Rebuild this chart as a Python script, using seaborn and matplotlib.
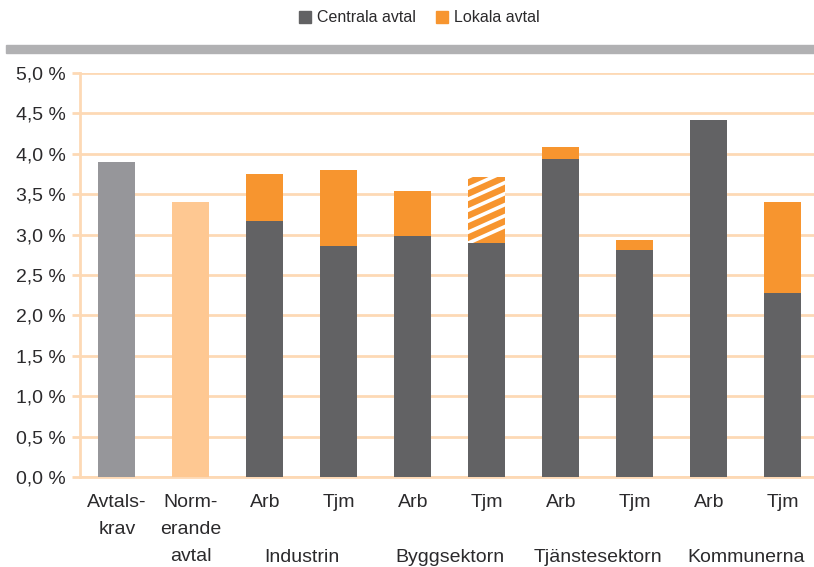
import matplotlib
matplotlib.use("Agg")
import matplotlib.pyplot as plt
import matplotlib.patches as mpatches
from matplotlib.lines import Line2D
import numpy as np
import pandas as pd
import seaborn as sns

# Bar keys, their printed labels and the sector groups underneath
categories = ["Avtalskrav", "Normerande avtal",
              "Industrin Arb", "Industrin Tjm",
              "Byggsektorn Arb", "Byggsektorn Tjm",
              "Tjänstesektorn Arb", "Tjänstesektorn Tjm",
              "Kommunerna Arb", "Kommunerna Tjm"]
tick_labels = ["Avtals-\nkrav", "Norm-\nerande\navtal",
               "Arb", "Tjm", "Arb", "Tjm", "Arb", "Tjm", "Arb", "Tjm"]
groups = ["Industrin", "Byggsektorn", "Tjänstesektorn", "Kommunerna"]

# Wage increase (%) from central agreements and from local agreements
centrala = [3.90, 3.40, 3.17, 2.86, 2.98, 2.90, 3.94, 2.81, 4.42, 2.28]
lokala = [0.00, 0.00, 0.58, 0.94, 0.56, 0.81, 0.14, 0.12, 0.00, 1.12]
hatched_bar = "Byggsektorn Tjm"

yticks = [0.0, 0.5, 1.0, 1.5, 2.0, 2.5, 3.0, 3.5, 4.0, 4.5, 5.0]

DARK = "#626264"
ORANGE = "#f7952f"
GREY_REF = "#96969a"
LIGHT_ORANGE = "#fec892"
GRID = "#fdd9b5"
TEXT = "#2b2a2c"

df = pd.DataFrame({"kategori": categories,
                   "centrala": centrala,
                   "lokala": lokala})
df["total"] = df["centrala"] + df["lokala"]

sns.set_theme(style="white")
plt.rcParams["font.family"] = ["Liberation Sans", "DejaVu Sans"]

W, H, DPI = 814, 567, 100
fig = plt.figure(figsize=(W / DPI, H / DPI), dpi=DPI)
ax = fig.add_axes([80 / W, 1 - 477 / H, 734 / W, 404 / H])

total_colors = [GREY_REF, LIGHT_ORANGE] + [ORANGE] * 8
base_colors = [GREY_REF, LIGHT_ORANGE] + [DARK] * 8

sns.barplot(data=df, x="kategori", y="total", hue="kategori",
            palette=total_colors, legend=False, width=0.5,
            saturation=1, ax=ax, zorder=2)
sns.barplot(data=df, x="kategori", y="centrala", hue="kategori",
            palette=base_colors, legend=False, width=0.5,
            saturation=1, ax=ax, zorder=3)
for p in ax.patches:
    p.set_edgecolor("none")
    p.set_linewidth(0)

ax.set_xlim(-0.5, 9.42)
ax.set_ylim(0, 5.0)

# White diagonal stripes on the local part of the hatched bar
idx = categories.index(hatched_bar)
stripe_patch = ax.patches[idx]
px_x = ax.get_position().width * W / (ax.get_xlim()[1] - ax.get_xlim()[0])
px_y = ax.get_position().height * H / (ax.get_ylim()[1] - ax.get_ylim()[0])
slope_px, period_px = 0.45, 11.0
x0, x1 = idx - 0.3, idx + 0.3
lo, hi = centrala[idx], centrala[idx] + lokala[idx]
off = -2.0
while off < (hi - lo) * px_y + 25:
    ys = [lo + off / px_y, lo + (off + slope_px * (x1 - x0) * px_x) / px_y]
    ln = Line2D([x0, x1], ys, color="white", lw=2.6, zorder=2.5,
                solid_capstyle="butt")
    ax.add_line(ln)
    ln.set_clip_path(stripe_patch)
    off += period_px

# Axes styling
ax.set_yticks(yticks)
ax.set_yticklabels([f"{v:.1f} %".replace(".", ",") for v in yticks])
ax.yaxis.grid(True, color=GRID, lw=2, zorder=0)
ax.xaxis.grid(False)
ax.set_axisbelow(True)
for side in ("top", "right"):
    ax.spines[side].set_visible(False)
for side in ("left", "bottom"):
    ax.spines[side].set_color(GRID)
    ax.spines[side].set_linewidth(2)
ax.tick_params(axis="y", left=True, length=6, width=2, color=GRID,
               pad=4, labelsize=14, labelcolor=TEXT)
ax.tick_params(axis="x", bottom=False, length=0, pad=12.5,
               labelsize=14, labelcolor=TEXT)
ax.set_xticks(range(len(categories)))
ax.set_xticklabels(tick_labels, linespacing=1.75, va="top")
ax.set_xlabel("")
ax.set_ylabel("")

for g, name in enumerate(groups):
    ax.annotate(name, xy=(2 + 2 * g + 0.5, 0),
                xycoords=("data", "axes fraction"),
                xytext=(0, -80 * 72 / DPI), textcoords="offset points",
                ha="center", va="center", fontsize=14, color=TEXT)

# Grey header band
fig.patches.append(mpatches.Rectangle((6 / W, 1 - 53 / H), 1 - 6 / W, 8 / H,
                                      transform=fig.transFigure,
                                      color="#b1b1b3", zorder=0))

handles = [mpatches.Patch(color=DARK, label="Centrala avtal"),
           mpatches.Patch(color=ORANGE, label="Lokala avtal")]
fig.legend(handles=handles, loc="center", bbox_to_anchor=(0.515, 1 - 18 / H),
           ncol=2, frameon=False, fontsize=11.5, handlelength=0.75,
           handleheight=0.75, handletextpad=0.35, columnspacing=1.3,
           labelcolor=TEXT)

fig.savefig("out.png", dpi=DPI)
